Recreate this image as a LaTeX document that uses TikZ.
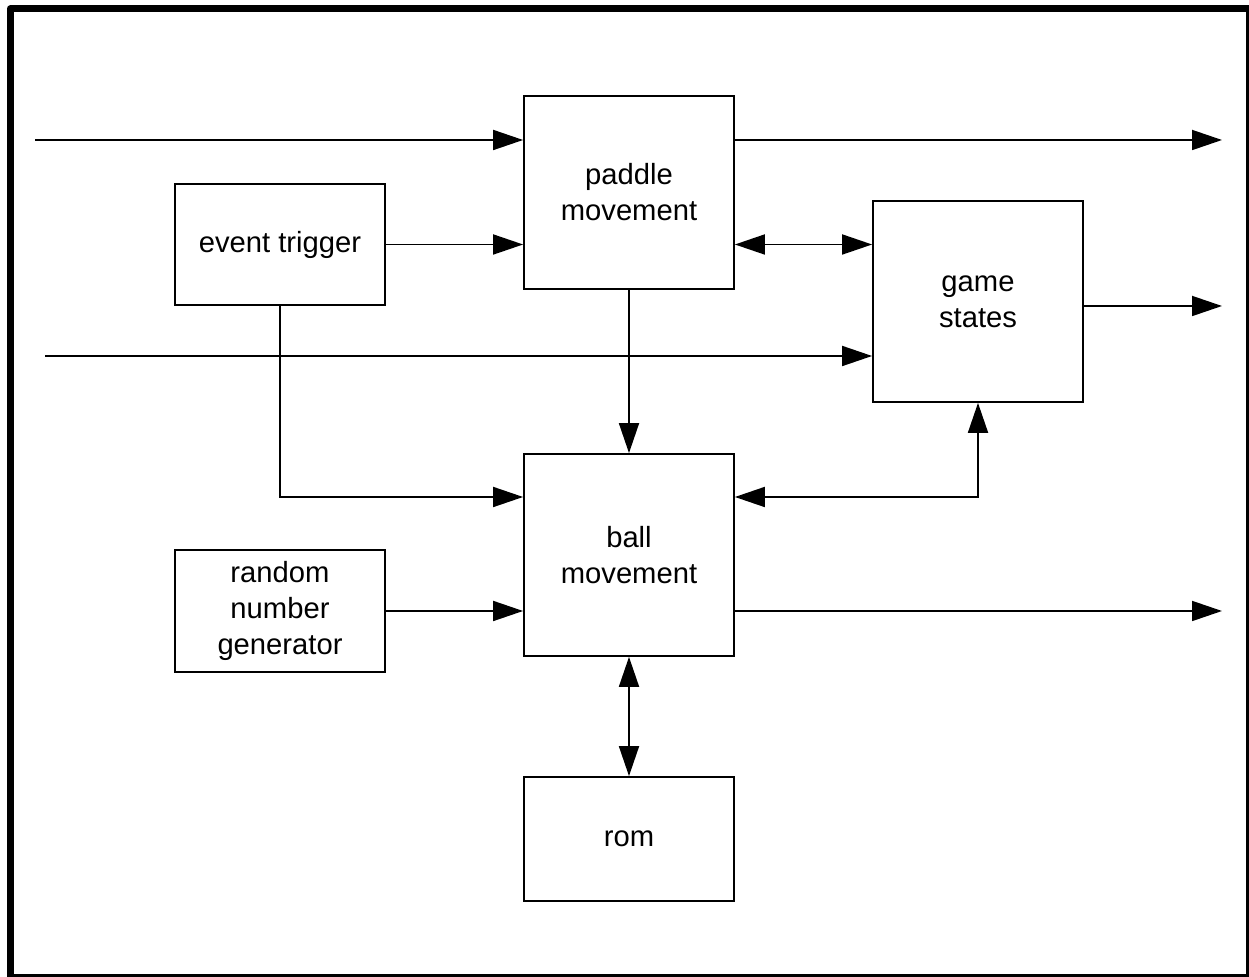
\documentclass[tikz,border=0pt]{standalone}
\usepackage{fontspec}
\setmainfont{Liberation Sans}
\usetikzlibrary{arrows.meta,calc}
\tikzset{
  blk/.style={draw, line width=0.9pt, minimum width=105pt, align=center,
              inner sep=0pt, font=\fontsize{14.6}{18}\selectfont},
  arr/.style={line width=0.9pt, -{Triangle[length=15pt,width=10pt]}},
  darr/.style={line width=0.9pt, {Triangle[length=15pt,width=10pt]}-{Triangle[length=15pt,width=10pt]}},
}
\begin{document}
\begin{tikzpicture}[x=0.5pt,y=-0.5pt]
\useasboundingbox (0,0) rectangle (1249,977);

% page frame
\draw[line width=3.5pt, line join=round] (10.3,977) -- (10.3,8.9) -- (1249,8.9);
\draw[line width=1.5pt] (1247,8.9) -- (1247,975.5) -- (10.3,975.5);

% blocks
\node[blk, minimum height=96.5pt] (paddle) at (629,192.5) {paddle\\movement};
\node[blk, minimum height=60.5pt] (event)  at (280,244.5) {event trigger};
\node[blk, minimum height=100.5pt] (game)  at (978,301.5) {game\\states};
\node[blk, minimum height=101pt] (ball)    at (629,555)   {ball\\movement};
\node[blk, minimum height=61pt] (rng)      at (280,611)   {random\\number\\generator};
\node[blk, minimum height=62pt] (rom)      at (629,839)   {rom};

% free ends
\coordinate (in1)  at (35,140);
\coordinate (out1) at (1222,140);
\coordinate (in2)  at (45,356);
\coordinate (out2) at (1222,306);
\coordinate (out3) at (1222,611);
\coordinate (jn)   at (629,497);

% connectors
\draw[arr]  (in1) -- (in1 -| paddle.west);
\draw[arr]  (paddle.east |- out1) -- (out1);
\draw[arr]  (event.east) -- (event.east -| paddle.west);
\draw[darr] (paddle.east |- event.east) -- (game.west |- event.east);
\draw[arr]  (in2) -- (in2 -| game.west);
\draw[arr]  (game.east |- out2) -- (out2);
\draw[arr]  (paddle.south) -- (ball.north);
\draw[arr]  (event.south) |- (jn -| ball.west);
\draw[darr] (jn -| ball.east) -| (game.south);
\draw[arr]  (rng.east) -- (rng.east -| ball.west);
\draw[arr]  (ball.east |- out3) -- (out3);
\draw[darr] (ball.south) -- (rom.north);
\end{tikzpicture}
\end{document}
